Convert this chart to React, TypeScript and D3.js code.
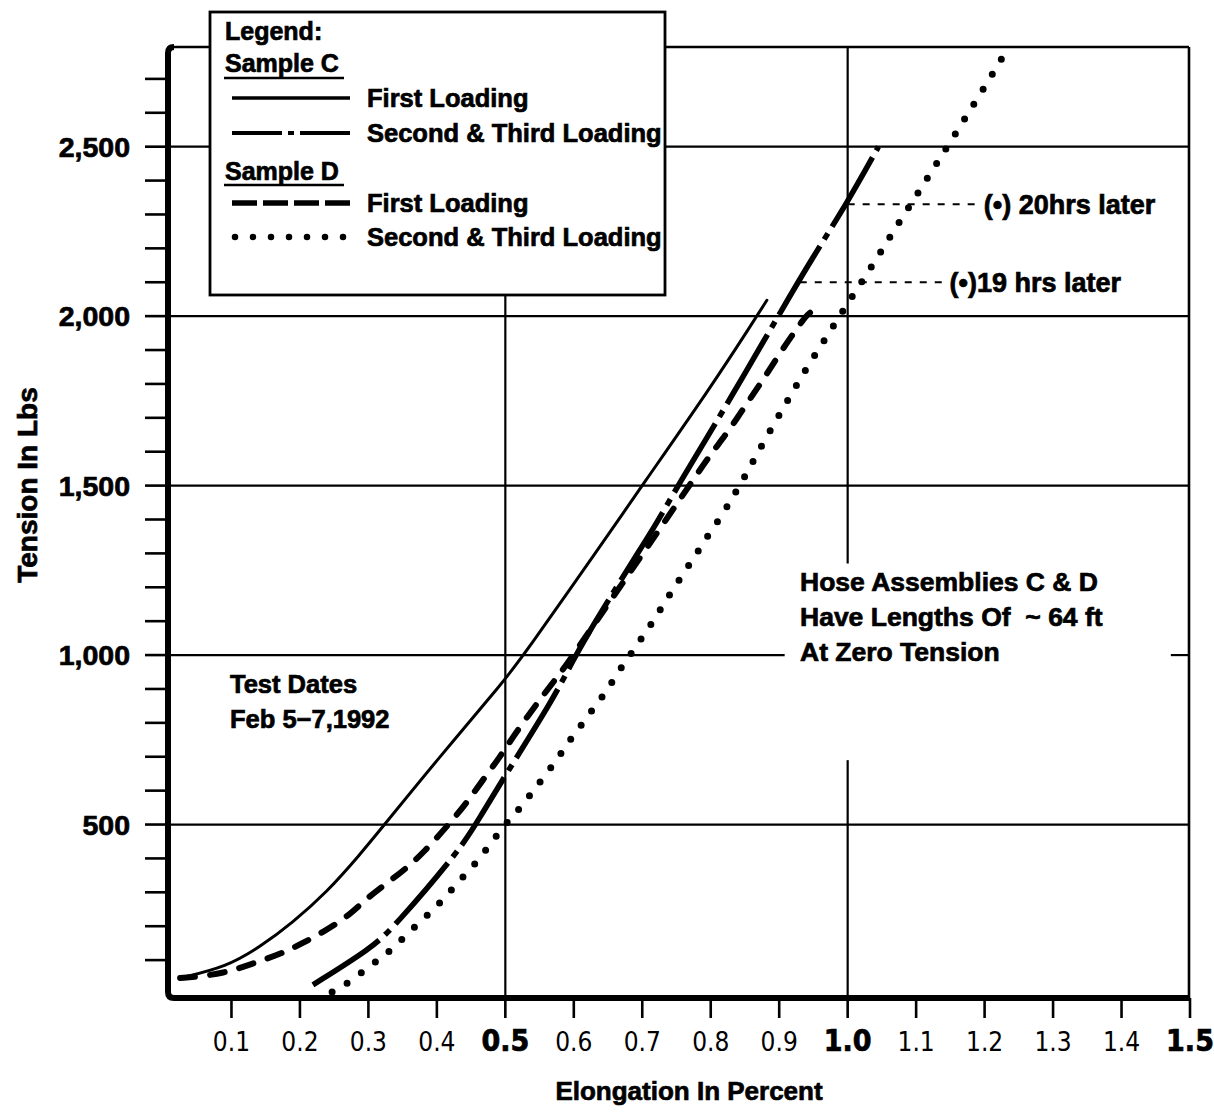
import React from "react";
import * as d3 from "d3";

// ---------- data (elongation %, tension lbs) ----------
const sampleCFirst: [number, number][] = [
  [0.025, 47], [0.093, 80], [0.142, 139], [0.19, 212], [0.239, 300], [0.288, 412],
  [0.324, 501], [0.4, 690], [0.5, 928], [0.528, 1003], [0.638, 1319], [0.699, 1498],
  [0.8, 1790], [0.861, 1980], [0.882, 2047],
];
const sampleCSecond: [number, number][] = [
  [0.219, 27], [0.305, 136], [0.336, 195], [0.434, 425], [0.463, 522], [0.502, 652],
  [0.569, 867], [0.599, 985], [0.62, 1060], [0.65, 1160], [0.69, 1290], [0.72, 1385],
  [0.755, 1510], [0.788, 1619], [0.853, 1841], [0.901, 2009], [0.949, 2174],
  [0.999, 2333], [1.045, 2500],
];
const sampleDFirst: [number, number][] = [
  [0.025, 47], [0.058, 53], [0.088, 62], [0.117, 80], [0.146, 100], [0.175, 121],
  [0.204, 150], [0.234, 183], [0.269, 227], [0.298, 283], [0.327, 327], [0.356, 372],
  [0.38, 416], [0.419, 504], [0.443, 563], [0.467, 631], [0.492, 699], [0.511, 758],
  [0.536, 829], [0.561, 897], [0.584, 956], [0.604, 1015], [0.65, 1150], [0.7, 1297],
  [0.74, 1415], [0.774, 1516], [0.799, 1590], [0.825, 1658], [0.853, 1743],
  [0.876, 1811], [0.901, 1891], [0.937, 1997], [0.945, 2010],
];
const sampleDSecond: [number, number][] = [
  [0.247, 6], [0.273, 35], [0.298, 77], [0.323, 112], [0.345, 153], [0.369, 201],
  [0.393, 245], [0.415, 292], [0.436, 342], [0.458, 386], [0.496, 493], [0.517, 537],
  [0.536, 587], [0.555, 637], [0.575, 690], [0.591, 740], [0.609, 788], [0.628, 841],
  [0.647, 891], [0.663, 944], [0.68, 994], [0.698, 1047], [0.715, 1097], [0.731, 1150],
  [0.747, 1200], [0.765, 1257], [0.781, 1304], [0.797, 1357], [0.815, 1407],
  [0.832, 1466], [0.847, 1516], [0.876, 1625], [0.907, 1732], [0.936, 1835],
  [0.969, 1938], [1.0, 2038], [1.035, 2145], [1.066, 2248], [1.098, 2348],
  [1.13, 2451], [1.147, 2504], [1.226, 2761], [1.232, 2785],
];

const xTicks = [0.1, 0.2, 0.3, 0.4, 0.5, 0.6, 0.7, 0.8, 0.9, 1.0, 1.1, 1.2, 1.3, 1.4, 1.5];
const xTickLabels = ["0.1", "0.2", "0.3", "0.4", "0.5", "0.6", "0.7", "0.8", "0.9", "1.0", "1.1", "1.2", "1.3", "1.4", "1.5"];
const xBoldTicks = [0.5, 1.0, 1.5];
const yMajorTicks = [500, 1000, 1500, 2000, 2500];
const yMajorLabels = ["500", "1,000", "1,500", "2,000", "2,500"];
const yMinorTicks = d3.range(100, 2800, 100);

// annotation leader lines
const notes: { x0: number; t: number; x1: number; label: string }[] = [
  { x0: 1.0, t: 2330, x1: 1.19, label: "(\u2022) 20hrs later" },
  { x0: 0.93, t: 2100, x1: 1.14, label: "(\u2022)19 hrs later" },
];

const hoseLines = ["Hose Assemblies C & D", "Have Lengths Of  ~ 64 ft", "At Zero Tension"];
const dateLines = ["Test Dates", "Feb 5\u22127,1992"];

// ---------- layout ----------
const W = 1214, H = 1115;
const x = d3.scaleLinear().domain([0, 1.5]).range([163, 1190]);
const y = d3.scaleLinear().domain([0, 2800]).range([994, 45]);
const L = 168;
const R = 1189;
const T = 47;
const B = 998;

const BOLD = "'Liberation Sans', Arial, Helvetica, sans-serif";
const NARROW = "'Liberation Sans Narrow', 'Arial Narrow', 'DejaVu Sans Condensed', sans-serif";

const styles = {
  cFirst: { strokeWidth: 3, dash: undefined as string | undefined, cap: "round" },
  cSecond: { strokeWidth: 5.5, dash: "80 8 7 8", cap: "butt" },
  dFirst: { strokeWidth: 6, dash: "15 15", cap: "round" },
  dSecond: { strokeWidth: 7, dash: "0 17.5", cap: "round" },
};

const line = d3
  .line<[number, number]>()
  .x((d) => x(d[0]))
  .y((d) => y(d[1]))
  .curve(d3.curveBasis);

function Txt(props: any) {
  const { children, size = 25, bold = true, font = BOLD, ...rest } = props;
  return (
    <text
      fontFamily={font}
      fontWeight={bold ? "bold" : "normal"}
      fontSize={size}
      fill="#000"
      stroke={bold ? "#000" : "none"}
      strokeWidth={bold ? 0.7 : 0}
      {...rest}
    >
      {children}
    </text>
  );
}

export default function App() {
  const series = [
    { d: sampleCFirst, s: styles.cFirst },
    { d: sampleDFirst, s: styles.dFirst },
    { d: sampleCSecond, s: styles.cSecond },
    { d: sampleDSecond, s: styles.dSecond },
  ];
  const oneGapTop = y(1270);
  const oneGapBottom = y(690);
  const lx0 = 232, lx1 = 350, ltx = 367;
  return (
    <svg
      width={W}
      height={H}
      viewBox={`0 0 ${W} ${H}`}
      style={{ position: "absolute", left: 0, top: 0, background: "#fff" }}
    >
      <rect x={0} y={0} width={W} height={H} fill="#fff" />
      {/* gridlines */}
      <g stroke="#000" strokeWidth={2.2} fill="none">
        {yMajorTicks.map((t) =>
          t === 1000 ? (
            <g key={t}>
              <line x1={L} x2={x(0.908)} y1={y(t)} y2={y(t)} />
              <line x1={x(1.472)} x2={R} y1={y(t)} y2={y(t)} />
            </g>
          ) : (
            <line key={t} x1={L} x2={R} y1={y(t)} y2={y(t)} />
          )
        )}
        <line x1={x(0.5)} x2={x(0.5)} y1={B} y2={T} />
        <line x1={x(1.0)} x2={x(1.0)} y1={B} y2={oneGapBottom} />
        <line x1={x(1.0)} x2={x(1.0)} y1={oneGapTop} y2={T} />
        <line x1={L} x2={R} y1={T} y2={T} strokeWidth={2.6} />
        <line x1={R} x2={R} y1={T} y2={B} strokeWidth={2.6} />
      </g>
      {/* axes */}
      <path
        d={`M${L + 6},${T} Q${L},${T} ${L},${T + 6} L${L},${B - 6} Q${L},${B} ${L + 6},${B} L${R + 1},${B}`}
        stroke="#000"
        strokeWidth={6}
        fill="none"
      />
      {/* y ticks */}
      <g stroke="#000" strokeWidth={2.6}>
        {yMinorTicks.map((t) => (
          <line key={t} x1={145} x2={L} y1={y(t)} y2={y(t)} />
        ))}
      </g>
      {yMajorTicks.map((t, i) => (
        <Txt key={t} x={130} y={y(t)} dy="0.36em" textAnchor="end" size={28.5}>
          {yMajorLabels[i]}
        </Txt>
      ))}
      {/* x ticks */}
      <g stroke="#000" strokeWidth={2.6}>
        {xTicks.map((t) => (
          <line key={t} x1={x(t)} x2={x(t)} y1={B} y2={B + 20} />
        ))}
      </g>
      {xTicks.map((t, i) => {
        const isBold = xBoldTicks.includes(t);
        return (
          <Txt
            key={t}
            x={x(t)}
            y={1051}
            textAnchor="middle"
            font={NARROW}
            bold={isBold}
            size={isBold ? 30 : 26}
          >
            {xTickLabels[i]}
          </Txt>
        );
      })}
      {/* axis titles */}
      <Txt x={689} y={1100} textAnchor="middle" size={26}>
        Elongation In Percent
      </Txt>
      <Txt x={0} y={0} textAnchor="middle" size={28} transform={`translate(37,485) rotate(-90)`}>
        Tension In Lbs
      </Txt>

      {/* curves */}
      {series.map((sr, i) => (
        <path
          key={i}
          d={line(sr.d) || ""}
          fill="none"
          stroke="#000"
          strokeWidth={sr.s.strokeWidth}
          strokeDasharray={sr.s.dash}
          strokeLinecap={sr.s.cap as any}
          strokeLinejoin="round"
        />
      ))}

      {/* annotation leaders */}
      {notes.map((n, i) => (
        <g key={i}>
          <line
            x1={x(n.x0)}
            x2={x(n.x1)}
            y1={y(n.t)}
            y2={y(n.t)}
            stroke="#000"
            strokeWidth={2}
            strokeDasharray="7 8"
          />
          <Txt x={x(n.x1) + 6} y={y(n.t)} dy="0.36em" size={27}>
            {n.label}
          </Txt>
        </g>
      ))}

      {/* text notes */}
      {dateLines.map((s, i) => (
        <Txt key={s} x={230} y={693 + i * 35} size={25.5}>
          {s}
        </Txt>
      ))}
      {hoseLines.map((s, i) => (
        <Txt key={s} x={800} y={591 + i * 35} size={26.5} style={{ whiteSpace: "pre" }}>
          {s}
        </Txt>
      ))}

      {/* legend */}
      <rect x={210} y={12} width={455} height={283} fill="#fff" stroke="#000" strokeWidth={2.8} />
      <Txt x={225} y={40} size={25}>Legend:</Txt>
      <Txt x={225} y={72} size={25}>Sample C</Txt>
      <line x1={224} x2={344} y1={78} y2={78} stroke="#000" strokeWidth={2.5} />
      <line x1={lx0} x2={lx1} y1={98} y2={98} stroke="#000" strokeWidth={3.5} />
      <Txt x={ltx} y={107} size={25.5}>First Loading</Txt>
      <line x1={lx0} x2={lx1} y1={133} y2={133} stroke="#000" strokeWidth={4} strokeDasharray="50 6 6 6" />
      <Txt x={ltx} y={142} size={25.5}>Second &amp; Third Loading</Txt>
      <Txt x={225} y={180} size={25}>Sample D</Txt>
      <line x1={224} x2={344} y1={185} y2={185} stroke="#000" strokeWidth={2.5} />
      <line x1={lx0} x2={lx1} y1={203} y2={203} stroke="#000" strokeWidth={5.5} strokeDasharray="25 6" />
      <Txt x={ltx} y={212} size={25.5}>First Loading</Txt>
      <line
        x1={lx0 + 3}
        x2={lx1}
        y1={237}
        y2={237}
        stroke="#000"
        strokeWidth={6.5}
        strokeDasharray="0 18"
        strokeLinecap="round"
      />
      <Txt x={ltx} y={246} size={25.5}>Second &amp; Third Loading</Txt>
    </svg>
  );
}
